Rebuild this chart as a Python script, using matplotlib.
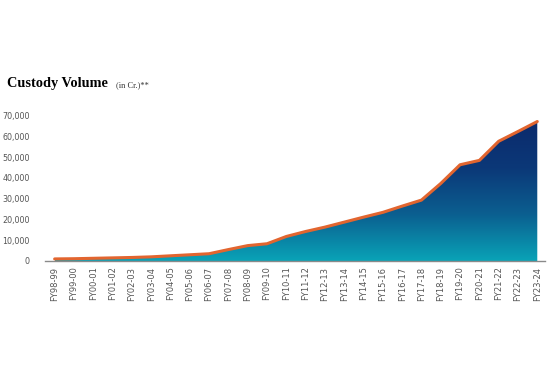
import numpy as np
import matplotlib
matplotlib.use("Agg")
import matplotlib.pyplot as plt
from matplotlib.colors import LinearSegmentedColormap
from matplotlib.ticker import FuncFormatter

years = ["FY98-99", "FY99-00", "FY00-01", "FY01-02", "FY02-03", "FY03-04",
         "FY04-05", "FY05-06", "FY06-07", "FY07-08", "FY08-09", "FY09-10",
         "FY10-11", "FY11-12", "FY12-13", "FY13-14", "FY14-15", "FY15-16",
         "FY16-17", "FY17-18", "FY18-19", "FY19-20", "FY20-21", "FY21-22",
         "FY22-23", "FY23-24"]
volume = [1000, 1100, 1300, 1500, 1700, 2000, 2500, 3000, 3500, 5500, 7400, 8300,
          11800, 14200, 16300, 18700, 21100, 23400, 26400, 29300, 37300, 46300,
          48400, 57600, 62300, 67100]
y_ticks = [0, 10000, 20000, 30000, 40000, 50000, 60000, 70000]

fig = plt.figure(figsize=(5.5, 3.66), dpi=100)
ax = fig.add_axes([45 / 550, 105 / 366, 500 / 550, 145.5 / 366])

x = np.arange(len(years))
poly = ax.fill_between(x, volume, 0, color="none", lw=0)

# vertical gradient, navy at top to teal at bottom
cmap = LinearSegmentedColormap.from_list("cust", ["#09a3b7", "#0b5f90", "#0c3878", "#0b2a6c"])
grad = np.linspace(0, 1, 256).reshape(-1, 1)
img = ax.imshow(grad, cmap=cmap, origin="lower", aspect="auto",
                extent=[x[0], x[-1], 0, max(volume)], zorder=1)
img.set_clip_path(poly.get_paths()[0], transform=ax.transData)

ax.plot(x, volume, color="#e2652f", lw=2.2, zorder=3, solid_capstyle="round")

ax.set_xlim(-0.5, len(years) - 0.6)
ax.set_ylim(0, 70000)
ax.set_xticks(x)
ax.set_xticklabels(years, rotation=90, fontsize=6, color="#555555")
ax.set_yticks(y_ticks)
ax.yaxis.set_major_formatter(FuncFormatter(lambda v, p: f"{int(v):,}"))
ax.tick_params(axis="y", length=0, labelsize=5.8, labelcolor="#555555", pad=11)
ax.tick_params(axis="x", length=0, pad=4)
for s in ["top", "right", "left"]:
    ax.spines[s].set_visible(False)
ax.spines["bottom"].set_color("#8a8a8a")
ax.spines["bottom"].set_linewidth(1)

fig.text(7 / 550, 1 - 84 / 366, "Custody Volume", fontsize=10.3, fontweight="bold",
         family="Liberation Serif", va="center", ha="left")
fig.text(116 / 550, 1 - 85 / 366, "(in Cr.)**", fontsize=6, family="Liberation Serif",
         va="center", ha="left", color="#333333")

fig.savefig("out.png", dpi=100)
